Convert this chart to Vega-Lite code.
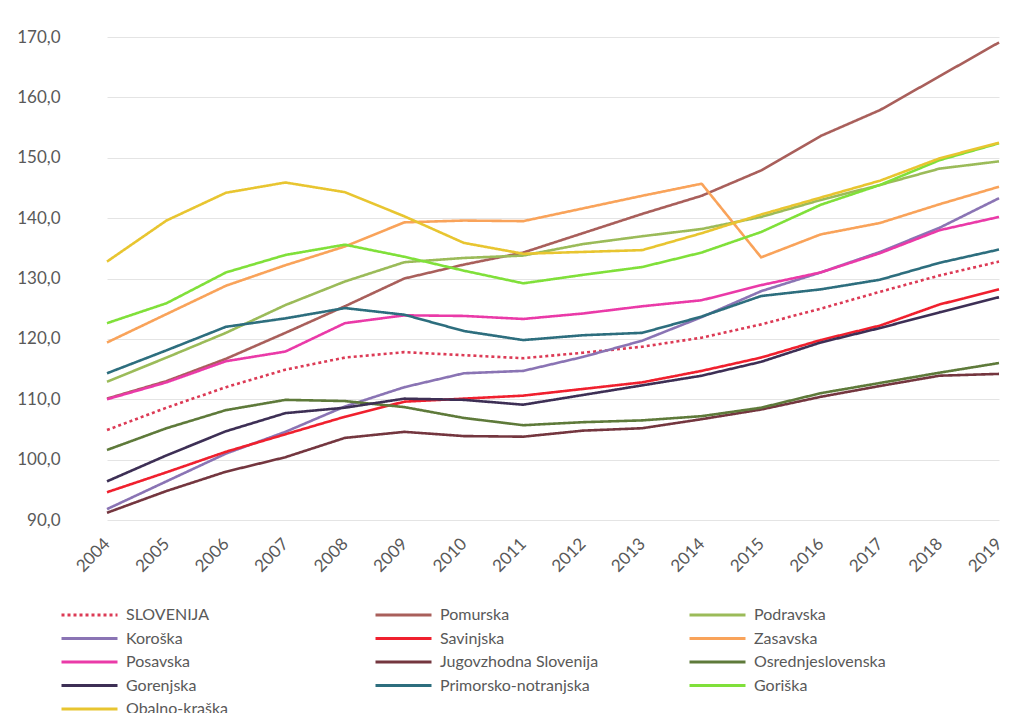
{
  "$schema": "https://vega.github.io/schema/vega-lite/v6.json",
  "autosize": {"type": "none"},
  "width": 934,
  "height": 483,
  "padding": {"left": 80, "top": 37, "right": 0, "bottom": 193},
  "background": "#ffffff",
  "config": {
    "font": "Lato",
    "view": {"stroke": null},
    "axis": {"labelFont": "Lato", "labelColor": "#595959", "labelFontSize": 17}
  },
  "datasets": {
    "bdp": [
      {"leto": "2004", "regija": "SLOVENIJA", "vrednost": 104.9},
      {"leto": "2005", "regija": "SLOVENIJA", "vrednost": 108.6},
      {"leto": "2006", "regija": "SLOVENIJA", "vrednost": 112.0},
      {"leto": "2007", "regija": "SLOVENIJA", "vrednost": 114.9},
      {"leto": "2008", "regija": "SLOVENIJA", "vrednost": 116.9},
      {"leto": "2009", "regija": "SLOVENIJA", "vrednost": 117.8},
      {"leto": "2010", "regija": "SLOVENIJA", "vrednost": 117.3},
      {"leto": "2011", "regija": "SLOVENIJA", "vrednost": 116.8},
      {"leto": "2012", "regija": "SLOVENIJA", "vrednost": 117.7},
      {"leto": "2013", "regija": "SLOVENIJA", "vrednost": 118.7},
      {"leto": "2014", "regija": "SLOVENIJA", "vrednost": 120.2},
      {"leto": "2015", "regija": "SLOVENIJA", "vrednost": 122.4},
      {"leto": "2016", "regija": "SLOVENIJA", "vrednost": 125.0},
      {"leto": "2017", "regija": "SLOVENIJA", "vrednost": 127.8},
      {"leto": "2018", "regija": "SLOVENIJA", "vrednost": 130.5},
      {"leto": "2019", "regija": "SLOVENIJA", "vrednost": 132.8},

      {"leto": "2004", "regija": "Pomurska", "vrednost": 110.1},
      {"leto": "2005", "regija": "Pomurska", "vrednost": 113.0},
      {"leto": "2006", "regija": "Pomurska", "vrednost": 116.7},
      {"leto": "2007", "regija": "Pomurska", "vrednost": 121.0},
      {"leto": "2008", "regija": "Pomurska", "vrednost": 125.4},
      {"leto": "2009", "regija": "Pomurska", "vrednost": 130.0},
      {"leto": "2010", "regija": "Pomurska", "vrednost": 132.3},
      {"leto": "2011", "regija": "Pomurska", "vrednost": 134.3},
      {"leto": "2012", "regija": "Pomurska", "vrednost": 137.5},
      {"leto": "2013", "regija": "Pomurska", "vrednost": 140.7},
      {"leto": "2014", "regija": "Pomurska", "vrednost": 143.7},
      {"leto": "2015", "regija": "Pomurska", "vrednost": 147.9},
      {"leto": "2016", "regija": "Pomurska", "vrednost": 153.6},
      {"leto": "2017", "regija": "Pomurska", "vrednost": 157.9},
      {"leto": "2018", "regija": "Pomurska", "vrednost": 163.5},
      {"leto": "2019", "regija": "Pomurska", "vrednost": 169.1},

      {"leto": "2004", "regija": "Podravska", "vrednost": 112.9},
      {"leto": "2005", "regija": "Podravska", "vrednost": 116.9},
      {"leto": "2006", "regija": "Podravska", "vrednost": 121.0},
      {"leto": "2007", "regija": "Podravska", "vrednost": 125.6},
      {"leto": "2008", "regija": "Podravska", "vrednost": 129.5},
      {"leto": "2009", "regija": "Podravska", "vrednost": 132.7},
      {"leto": "2010", "regija": "Podravska", "vrednost": 133.4},
      {"leto": "2011", "regija": "Podravska", "vrednost": 133.8},
      {"leto": "2012", "regija": "Podravska", "vrednost": 135.7},
      {"leto": "2013", "regija": "Podravska", "vrednost": 137.0},
      {"leto": "2014", "regija": "Podravska", "vrednost": 138.2},
      {"leto": "2015", "regija": "Podravska", "vrednost": 140.2},
      {"leto": "2016", "regija": "Podravska", "vrednost": 143.0},
      {"leto": "2017", "regija": "Podravska", "vrednost": 145.5},
      {"leto": "2018", "regija": "Podravska", "vrednost": 148.2},
      {"leto": "2019", "regija": "Podravska", "vrednost": 149.4},

      {"leto": "2004", "regija": "Koroška", "vrednost": 91.8},
      {"leto": "2005", "regija": "Koroška", "vrednost": 96.4},
      {"leto": "2006", "regija": "Koroška", "vrednost": 101.0},
      {"leto": "2007", "regija": "Koroška", "vrednost": 104.6},
      {"leto": "2008", "regija": "Koroška", "vrednost": 108.8},
      {"leto": "2009", "regija": "Koroška", "vrednost": 112.0},
      {"leto": "2010", "regija": "Koroška", "vrednost": 114.3},
      {"leto": "2011", "regija": "Koroška", "vrednost": 114.7},
      {"leto": "2012", "regija": "Koroška", "vrednost": 117.0},
      {"leto": "2013", "regija": "Koroška", "vrednost": 119.7},
      {"leto": "2014", "regija": "Koroška", "vrednost": 123.6},
      {"leto": "2015", "regija": "Koroška", "vrednost": 127.9},
      {"leto": "2016", "regija": "Koroška", "vrednost": 131.0},
      {"leto": "2017", "regija": "Koroška", "vrednost": 134.4},
      {"leto": "2018", "regija": "Koroška", "vrednost": 138.4},
      {"leto": "2019", "regija": "Koroška", "vrednost": 143.3},

      {"leto": "2004", "regija": "Savinjska", "vrednost": 94.6},
      {"leto": "2005", "regija": "Savinjska", "vrednost": 97.9},
      {"leto": "2006", "regija": "Savinjska", "vrednost": 101.3},
      {"leto": "2007", "regija": "Savinjska", "vrednost": 104.2},
      {"leto": "2008", "regija": "Savinjska", "vrednost": 107.1},
      {"leto": "2009", "regija": "Savinjska", "vrednost": 109.6},
      {"leto": "2010", "regija": "Savinjska", "vrednost": 110.1},
      {"leto": "2011", "regija": "Savinjska", "vrednost": 110.6},
      {"leto": "2012", "regija": "Savinjska", "vrednost": 111.7},
      {"leto": "2013", "regija": "Savinjska", "vrednost": 112.8},
      {"leto": "2014", "regija": "Savinjska", "vrednost": 114.7},
      {"leto": "2015", "regija": "Savinjska", "vrednost": 116.9},
      {"leto": "2016", "regija": "Savinjska", "vrednost": 119.8},
      {"leto": "2017", "regija": "Savinjska", "vrednost": 122.2},
      {"leto": "2018", "regija": "Savinjska", "vrednost": 125.7},
      {"leto": "2019", "regija": "Savinjska", "vrednost": 128.2},

      {"leto": "2004", "regija": "Zasavska", "vrednost": 119.4},
      {"leto": "2005", "regija": "Zasavska", "vrednost": 124.1},
      {"leto": "2006", "regija": "Zasavska", "vrednost": 128.8},
      {"leto": "2007", "regija": "Zasavska", "vrednost": 132.2},
      {"leto": "2008", "regija": "Zasavska", "vrednost": 135.3},
      {"leto": "2009", "regija": "Zasavska", "vrednost": 139.3},
      {"leto": "2010", "regija": "Zasavska", "vrednost": 139.6},
      {"leto": "2011", "regija": "Zasavska", "vrednost": 139.5},
      {"leto": "2012", "regija": "Zasavska", "vrednost": 141.6},
      {"leto": "2013", "regija": "Zasavska", "vrednost": 143.7},
      {"leto": "2014", "regija": "Zasavska", "vrednost": 145.7},
      {"leto": "2015", "regija": "Zasavska", "vrednost": 133.5},
      {"leto": "2016", "regija": "Zasavska", "vrednost": 137.3},
      {"leto": "2017", "regija": "Zasavska", "vrednost": 139.2},
      {"leto": "2018", "regija": "Zasavska", "vrednost": 142.3},
      {"leto": "2019", "regija": "Zasavska", "vrednost": 145.2},

      {"leto": "2004", "regija": "Posavska", "vrednost": 110.0},
      {"leto": "2005", "regija": "Posavska", "vrednost": 112.8},
      {"leto": "2006", "regija": "Posavska", "vrednost": 116.3},
      {"leto": "2007", "regija": "Posavska", "vrednost": 117.9},
      {"leto": "2008", "regija": "Posavska", "vrednost": 122.6},
      {"leto": "2009", "regija": "Posavska", "vrednost": 123.9},
      {"leto": "2010", "regija": "Posavska", "vrednost": 123.8},
      {"leto": "2011", "regija": "Posavska", "vrednost": 123.3},
      {"leto": "2012", "regija": "Posavska", "vrednost": 124.2},
      {"leto": "2013", "regija": "Posavska", "vrednost": 125.4},
      {"leto": "2014", "regija": "Posavska", "vrednost": 126.4},
      {"leto": "2015", "regija": "Posavska", "vrednost": 128.9},
      {"leto": "2016", "regija": "Posavska", "vrednost": 131.0},
      {"leto": "2017", "regija": "Posavska", "vrednost": 134.2},
      {"leto": "2018", "regija": "Posavska", "vrednost": 138.0},
      {"leto": "2019", "regija": "Posavska", "vrednost": 140.2},

      {"leto": "2004", "regija": "Jugovzhodna Slovenija", "vrednost": 91.2},
      {"leto": "2005", "regija": "Jugovzhodna Slovenija", "vrednost": 94.8},
      {"leto": "2006", "regija": "Jugovzhodna Slovenija", "vrednost": 98.0},
      {"leto": "2007", "regija": "Jugovzhodna Slovenija", "vrednost": 100.4},
      {"leto": "2008", "regija": "Jugovzhodna Slovenija", "vrednost": 103.6},
      {"leto": "2009", "regija": "Jugovzhodna Slovenija", "vrednost": 104.6},
      {"leto": "2010", "regija": "Jugovzhodna Slovenija", "vrednost": 103.9},
      {"leto": "2011", "regija": "Jugovzhodna Slovenija", "vrednost": 103.8},
      {"leto": "2012", "regija": "Jugovzhodna Slovenija", "vrednost": 104.8},
      {"leto": "2013", "regija": "Jugovzhodna Slovenija", "vrednost": 105.2},
      {"leto": "2014", "regija": "Jugovzhodna Slovenija", "vrednost": 106.7},
      {"leto": "2015", "regija": "Jugovzhodna Slovenija", "vrednost": 108.3},
      {"leto": "2016", "regija": "Jugovzhodna Slovenija", "vrednost": 110.4},
      {"leto": "2017", "regija": "Jugovzhodna Slovenija", "vrednost": 112.2},
      {"leto": "2018", "regija": "Jugovzhodna Slovenija", "vrednost": 113.9},
      {"leto": "2019", "regija": "Jugovzhodna Slovenija", "vrednost": 114.2},

      {"leto": "2004", "regija": "Osrednjeslovenska", "vrednost": 101.6},
      {"leto": "2005", "regija": "Osrednjeslovenska", "vrednost": 105.2},
      {"leto": "2006", "regija": "Osrednjeslovenska", "vrednost": 108.2},
      {"leto": "2007", "regija": "Osrednjeslovenska", "vrednost": 109.9},
      {"leto": "2008", "regija": "Osrednjeslovenska", "vrednost": 109.7},
      {"leto": "2009", "regija": "Osrednjeslovenska", "vrednost": 108.7},
      {"leto": "2010", "regija": "Osrednjeslovenska", "vrednost": 106.9},
      {"leto": "2011", "regija": "Osrednjeslovenska", "vrednost": 105.7},
      {"leto": "2012", "regija": "Osrednjeslovenska", "vrednost": 106.2},
      {"leto": "2013", "regija": "Osrednjeslovenska", "vrednost": 106.5},
      {"leto": "2014", "regija": "Osrednjeslovenska", "vrednost": 107.2},
      {"leto": "2015", "regija": "Osrednjeslovenska", "vrednost": 108.6},
      {"leto": "2016", "regija": "Osrednjeslovenska", "vrednost": 111.0},
      {"leto": "2017", "regija": "Osrednjeslovenska", "vrednost": 112.7},
      {"leto": "2018", "regija": "Osrednjeslovenska", "vrednost": 114.4},
      {"leto": "2019", "regija": "Osrednjeslovenska", "vrednost": 116.0},

      {"leto": "2004", "regija": "Gorenjska", "vrednost": 96.4},
      {"leto": "2005", "regija": "Gorenjska", "vrednost": 100.7},
      {"leto": "2006", "regija": "Gorenjska", "vrednost": 104.7},
      {"leto": "2007", "regija": "Gorenjska", "vrednost": 107.7},
      {"leto": "2008", "regija": "Gorenjska", "vrednost": 108.6},
      {"leto": "2009", "regija": "Gorenjska", "vrednost": 110.1},
      {"leto": "2010", "regija": "Gorenjska", "vrednost": 109.9},
      {"leto": "2011", "regija": "Gorenjska", "vrednost": 109.1},
      {"leto": "2012", "regija": "Gorenjska", "vrednost": 110.7},
      {"leto": "2013", "regija": "Gorenjska", "vrednost": 112.3},
      {"leto": "2014", "regija": "Gorenjska", "vrednost": 113.9},
      {"leto": "2015", "regija": "Gorenjska", "vrednost": 116.2},
      {"leto": "2016", "regija": "Gorenjska", "vrednost": 119.4},
      {"leto": "2017", "regija": "Gorenjska", "vrednost": 121.8},
      {"leto": "2018", "regija": "Gorenjska", "vrednost": 124.4},
      {"leto": "2019", "regija": "Gorenjska", "vrednost": 126.9},

      {"leto": "2004", "regija": "Primorsko-notranjska", "vrednost": 114.3},
      {"leto": "2005", "regija": "Primorsko-notranjska", "vrednost": 118.1},
      {"leto": "2006", "regija": "Primorsko-notranjska", "vrednost": 122.0},
      {"leto": "2007", "regija": "Primorsko-notranjska", "vrednost": 123.4},
      {"leto": "2008", "regija": "Primorsko-notranjska", "vrednost": 125.1},
      {"leto": "2009", "regija": "Primorsko-notranjska", "vrednost": 124.0},
      {"leto": "2010", "regija": "Primorsko-notranjska", "vrednost": 121.3},
      {"leto": "2011", "regija": "Primorsko-notranjska", "vrednost": 119.8},
      {"leto": "2012", "regija": "Primorsko-notranjska", "vrednost": 120.6},
      {"leto": "2013", "regija": "Primorsko-notranjska", "vrednost": 121.0},
      {"leto": "2014", "regija": "Primorsko-notranjska", "vrednost": 123.7},
      {"leto": "2015", "regija": "Primorsko-notranjska", "vrednost": 127.1},
      {"leto": "2016", "regija": "Primorsko-notranjska", "vrednost": 128.2},
      {"leto": "2017", "regija": "Primorsko-notranjska", "vrednost": 129.8},
      {"leto": "2018", "regija": "Primorsko-notranjska", "vrednost": 132.6},
      {"leto": "2019", "regija": "Primorsko-notranjska", "vrednost": 134.8},

      {"leto": "2004", "regija": "Goriška", "vrednost": 122.6},
      {"leto": "2005", "regija": "Goriška", "vrednost": 125.9},
      {"leto": "2006", "regija": "Goriška", "vrednost": 131.0},
      {"leto": "2007", "regija": "Goriška", "vrednost": 133.9},
      {"leto": "2008", "regija": "Goriška", "vrednost": 135.6},
      {"leto": "2009", "regija": "Goriška", "vrednost": 133.6},
      {"leto": "2010", "regija": "Goriška", "vrednost": 131.3},
      {"leto": "2011", "regija": "Goriška", "vrednost": 129.2},
      {"leto": "2012", "regija": "Goriška", "vrednost": 130.6},
      {"leto": "2013", "regija": "Goriška", "vrednost": 131.9},
      {"leto": "2014", "regija": "Goriška", "vrednost": 134.3},
      {"leto": "2015", "regija": "Goriška", "vrednost": 137.7},
      {"leto": "2016", "regija": "Goriška", "vrednost": 142.2},
      {"leto": "2017", "regija": "Goriška", "vrednost": 145.5},
      {"leto": "2018", "regija": "Goriška", "vrednost": 149.6},
      {"leto": "2019", "regija": "Goriška", "vrednost": 152.4},

      {"leto": "2004", "regija": "Obalno-kraška", "vrednost": 132.8},
      {"leto": "2005", "regija": "Obalno-kraška", "vrednost": 139.6},
      {"leto": "2006", "regija": "Obalno-kraška", "vrednost": 144.2},
      {"leto": "2007", "regija": "Obalno-kraška", "vrednost": 145.9},
      {"leto": "2008", "regija": "Obalno-kraška", "vrednost": 144.3},
      {"leto": "2009", "regija": "Obalno-kraška", "vrednost": 140.3},
      {"leto": "2010", "regija": "Obalno-kraška", "vrednost": 135.9},
      {"leto": "2011", "regija": "Obalno-kraška", "vrednost": 134.1},
      {"leto": "2012", "regija": "Obalno-kraška", "vrednost": 134.4},
      {"leto": "2013", "regija": "Obalno-kraška", "vrednost": 134.7},
      {"leto": "2014", "regija": "Obalno-kraška", "vrednost": 137.5},
      {"leto": "2015", "regija": "Obalno-kraška", "vrednost": 140.6},
      {"leto": "2016", "regija": "Obalno-kraška", "vrednost": 143.4},
      {"leto": "2017", "regija": "Obalno-kraška", "vrednost": 146.2},
      {"leto": "2018", "regija": "Obalno-kraška", "vrednost": 149.9},
      {"leto": "2019", "regija": "Obalno-kraška", "vrednost": 152.5}
    ]
  },
  "data": {"name": "bdp"},
  "mark": {"type": "line", "strokeWidth": 2.6, "strokeCap": "butt", "strokeJoin": "round"},
  "encoding": {
    "x": {
      "field": "leto",
      "type": "ordinal",
      "scale": {"type": "point", "range": [27, 919], "padding": 0},
      "axis": {
        "title": null,
        "grid": false,
        "ticks": false,
        "domain": false,
        "labelAngle": -45,
        "labelAlign": "right",
        "labelBaseline": "middle",
        "labelPadding": 21
      }
    },
    "y": {
      "field": "vrednost",
      "type": "quantitative",
      "scale": {"domain": [90, 170], "nice": false, "zero": false},
      "axis": {
        "title": null,
        "values": [90, 100, 110, 120, 130, 140, 150, 160, 170],
        "grid": true,
        "gridColor": "#e4e4e4",
        "gridWidth": 1,
        "ticks": false,
        "domain": false,
        "labelPadding": 20,
        "labelExpr": "replace(format(datum.value, '.1f'), '.', ',')"
      }
    },
    "color": {
      "field": "regija",
      "type": "nominal",
      "scale": {
        "domain": ["SLOVENIJA", "Pomurska", "Podravska", "Koroška", "Savinjska", "Zasavska", "Posavska", "Jugovzhodna Slovenija", "Osrednjeslovenska", "Gorenjska", "Primorsko-notranjska", "Goriška", "Obalno-kraška"],
        "range": ["#dc3a55", "#a95f5b", "#9bbb59", "#8a74b4", "#f0202e", "#f9a35a", "#ea3aa8", "#74363f", "#5e7a3a", "#3d2f55", "#2d6e7e", "#80e03a", "#e8c530"]
      },
      "legend": {
        "title": null,
        "orient": "none",
        "legendX": -20,
        "legendY": 570,
        "direction": "horizontal",
        "columns": 3,
        "gridAlign": "all",
        "columnPadding": 89,
        "rowPadding": 7.5,
        "clipHeight": 16,
        "symbolType": "stroke",
        "symbolSize": 3136,
        "symbolStrokeWidth": 3,
        "labelOffset": 7,
        "labelFont": "Lato",
        "labelFontSize": 16,
        "labelColor": "#595959",
        "labelLimit": 300
      }
    },
    "strokeDash": {
      "field": "regija",
      "type": "nominal",
      "scale": {
        "domain": ["SLOVENIJA", "Pomurska", "Podravska", "Koroška", "Savinjska", "Zasavska", "Posavska", "Jugovzhodna Slovenija", "Osrednjeslovenska", "Gorenjska", "Primorsko-notranjska", "Goriška", "Obalno-kraška"],
        "range": [[3, 3], [1, 0], [1, 0], [1, 0], [1, 0], [1, 0], [1, 0], [1, 0], [1, 0], [1, 0], [1, 0], [1, 0], [1, 0]]
      },
      "legend": {
        "title": null,
        "orient": "none",
        "legendX": -20,
        "legendY": 570,
        "direction": "horizontal",
        "columns": 3,
        "gridAlign": "all",
        "columnPadding": 89,
        "rowPadding": 7.5,
        "clipHeight": 16,
        "symbolType": "stroke",
        "symbolSize": 3136,
        "symbolStrokeWidth": 3,
        "labelOffset": 7,
        "labelFont": "Lato",
        "labelFontSize": 16,
        "labelColor": "#595959",
        "labelLimit": 300
      }
    }
  }
}
